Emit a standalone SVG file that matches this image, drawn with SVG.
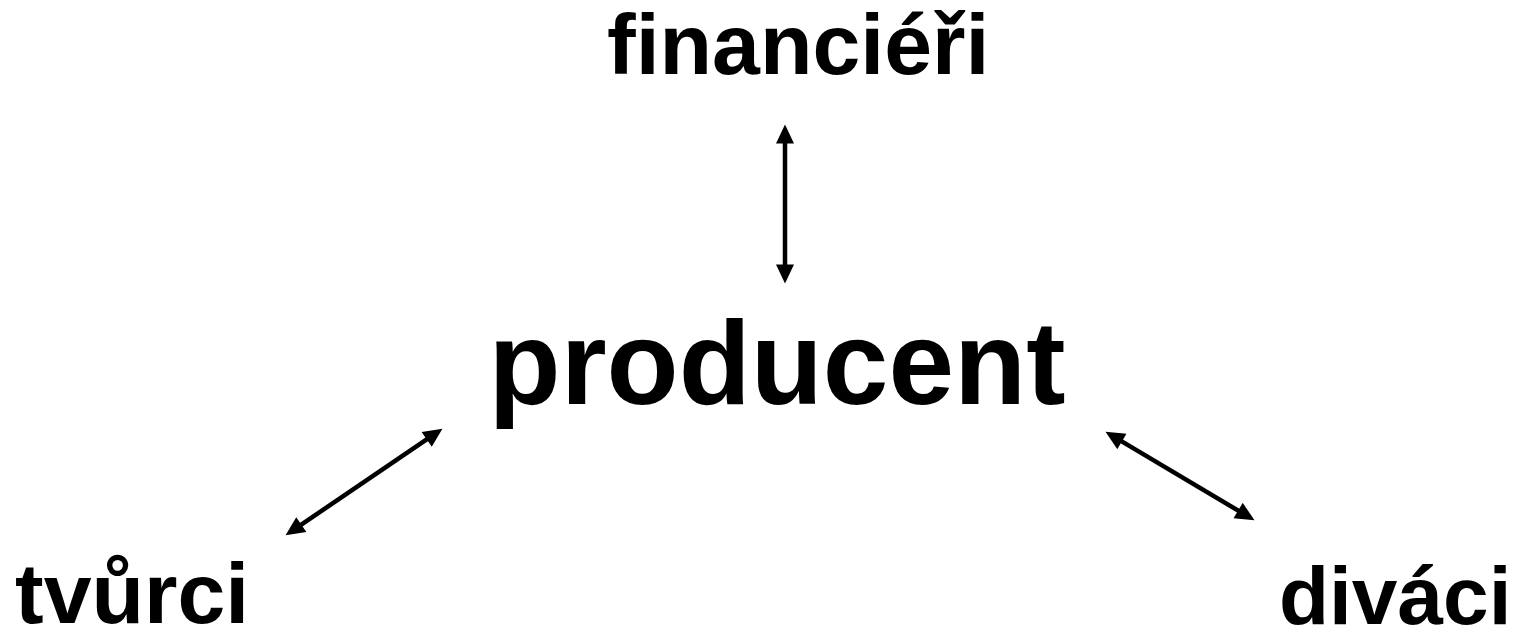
<svg xmlns="http://www.w3.org/2000/svg" width="1526" height="631" viewBox="0 0 1526 631">
<defs>
<style>
.t{font-family:"Liberation Sans",Arial,sans-serif;font-weight:bold;fill:#000}
.s{font-size:86px}
.d{font-size:82px}
.b{font-size:118px}
.c{stroke:#000;stroke-width:4.5;fill:none;marker-start:url(#ah);marker-end:url(#ah)}
</style>
<marker id="ah" markerUnits="userSpaceOnUse" markerWidth="20" markerHeight="18" refX="8" refY="8.5" orient="auto-start-reverse" viewBox="0 0 18 17">
<path d="M0,0 L18,8.5 L0,17 z" fill="#000"/>
</marker>
</defs>
<rect width="1526" height="631" fill="#fff"/>
<g id="connectors">
<line class="c" x1="785" y1="135" x2="785" y2="273"/>
<line class="c" x1="294.3" y1="529.4" x2="433.7" y2="434.6"/>
<line class="c" x1="1114.6" y1="437.1" x2="1245.4" y2="514.9"/>
</g>
<g id="financieri"><text class="t s" x="607" y="74">financiéři</text></g>
<g id="producent"><text class="t b" x="777" y="404" text-anchor="middle">producent</text></g>
<g id="tvurci"><text class="t s" x="15" y="623">tvůrci</text></g>
<g id="divaci"><text class="t d" x="1279" y="624">diváci</text></g>
</svg>
